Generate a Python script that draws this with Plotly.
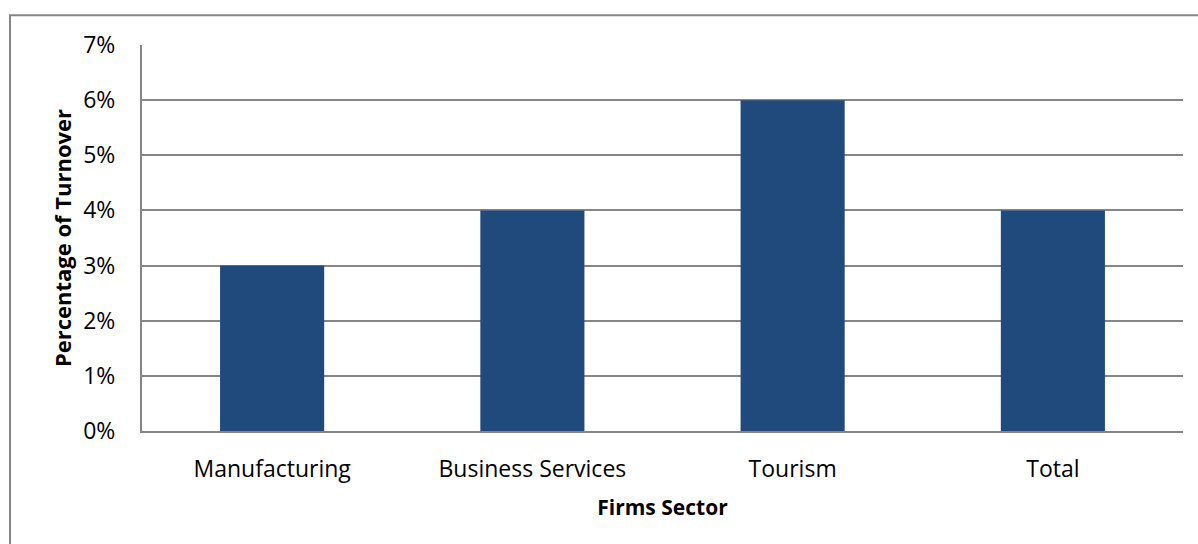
import plotly.graph_objects as go

sectors = ["Manufacturing", "Business Services", "Tourism", "Total"]
turnover_pct = [0.03, 0.04, 0.06, 0.04]
y_ticks = [0, 0.01, 0.02, 0.03, 0.04, 0.05, 0.06, 0.07]
y_tick_labels = ["0%", "1%", "2%", "3%", "4%", "5%", "6%", "7%"]

FONT = "'Open Sans', 'Noto Sans', sans-serif"
GRID = "#868686"

fig = go.Figure(
    go.Bar(
        x=sectors,
        y=turnover_pct,
        marker=dict(color="#214A7C", line=dict(width=0)),
        width=0.4,
    )
)

fig.update_layout(
    width=1198,
    height=544,
    margin=dict(l=142, r=15, t=45, b=113),
    paper_bgcolor="white",
    plot_bgcolor="white",
    showlegend=False,
    font=dict(family=FONT, size=23, color="#000000"),
    xaxis=dict(
        showgrid=False,
        showline=True,
        linecolor=GRID,
        linewidth=2,
        ticks="outside",
        ticklen=0,
        tickcolor="white",
        ticklabelstandoff=16,
        tickfont=dict(family=FONT, size=23),
        title=dict(text="<b>Firms Sector</b>", font=dict(family=FONT, size=21), standoff=18),
    ),
    yaxis=dict(
        range=[0, 0.07],
        tickvals=y_ticks,
        ticktext=y_tick_labels,
        showgrid=True,
        gridcolor=GRID,
        gridwidth=1.5,
        showline=True,
        linecolor=GRID,
        linewidth=2,
        zeroline=False,
        ticks="outside",
        ticklen=0,
        tickcolor="white",
        ticklabelstandoff=20,
        tickfont=dict(family=FONT, size=23),
        title=dict(text="<b>Percentage of Turnover</b>", font=dict(family=FONT, size=22), standoff=6),
    ),
    shapes=[
        dict(
            type="rect",
            xref="paper",
            yref="paper",
            x0=-0.1268,
            x1=1.2,
            y0=-0.6,
            y1=1.0769,
            line=dict(color=GRID, width=2),
            fillcolor="rgba(0,0,0,0)",
            layer="below",
        )
    ],
)

fig.write_html("out.html")
